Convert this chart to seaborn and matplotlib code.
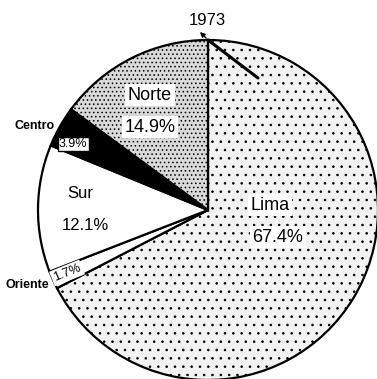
import matplotlib
matplotlib.use("Agg")
import matplotlib.pyplot as plt
import seaborn as sns

sns.set_theme(style="white")
plt.rcParams["font.family"] = ["Liberation Sans", "DejaVu Sans"]
plt.rcParams["text.color"] = "black"
plt.rcParams["hatch.linewidth"] = 0.6

regions = ["Lima", "Oriente", "Sur", "Centro", "Norte"]
shares = [67.4, 1.7, 12.1, 3.9, 14.9]
year = "1973"

faces = ["#f2f2f2", "white", "white", "black", "#d9d9d9"]
hatches = ["..", None, None, None, "...."]

fig = plt.figure(figsize=(3.77, 3.79), dpi=100)
ax = fig.add_axes([38 / 377, -1 / 379, 340 / 377, 340 / 379])

wedges, _ = ax.pie(shares, startangle=90, counterclock=False, colors=faces,
                   wedgeprops=dict(edgecolor="black", linewidth=1.6))
for w, h in zip(wedges, hatches):
    if h:
        w.set_hatch(h)
ax.set_xlim(-1, 1)
ax.set_ylim(-1, 1)
ax.set_aspect("equal")
ax.axis("off")

box = dict(boxstyle="square,pad=0.15", fc="white", ec="none")
boxed = dict(boxstyle="square,pad=0.1", fc="white", ec="black", lw=1)

def px(x, y):
    # pixel position on the canvas -> axes data coordinates
    return ((x - 208) / 170, (210 - y) / 170)

fs = 13
ax.text(*px(270, 205), regions[0], fontsize=fs, ha="center", va="center", bbox=box)
ax.text(*px(278, 237), f"{shares[0]}%", fontsize=fs, ha="center", va="center", bbox=box)
ax.text(*px(150, 95), regions[4], fontsize=fs, ha="center", va="center", bbox=box)
ax.text(*px(150, 127), f"{shares[4]}%", fontsize=fs, ha="center", va="center", bbox=box)
ax.text(*px(80, 193), regions[2], fontsize=fs - 1, ha="center", va="center", bbox=box)
ax.text(*px(85, 225), f"{shares[2]}%", fontsize=fs - 1, ha="center", va="center", bbox=box)
ax.text(*px(35, 126), regions[3], fontsize=9, fontweight="bold", ha="center", va="center", clip_on=False)
ax.text(*px(73, 144), f"{shares[3]}%", fontsize=9, ha="center", va="center", bbox=boxed)
ax.text(*px(27, 285), regions[1], fontsize=9, fontweight="bold", ha="center", va="center", clip_on=False)
ax.text(*px(67, 273), f"{shares[1]}%", fontsize=9, ha="center", va="center",
        rotation=22, bbox=box)
ax.text(*px(207, 20), year, fontsize=12, ha="center", va="center", clip_on=False)

# pen stroke marking the start of the series
ax.plot([px(208, 40)[0], px(258, 78)[0]], [px(208, 40)[1], px(258, 78)[1]],
        color="black", lw=2.2, clip_on=False)
ax.annotate("", xy=px(198, 30), xytext=px(208, 40),
            arrowprops=dict(arrowstyle="-|>", color="black", lw=1, mutation_scale=7),
            annotation_clip=False)

fig.savefig("out.png", dpi=100)
